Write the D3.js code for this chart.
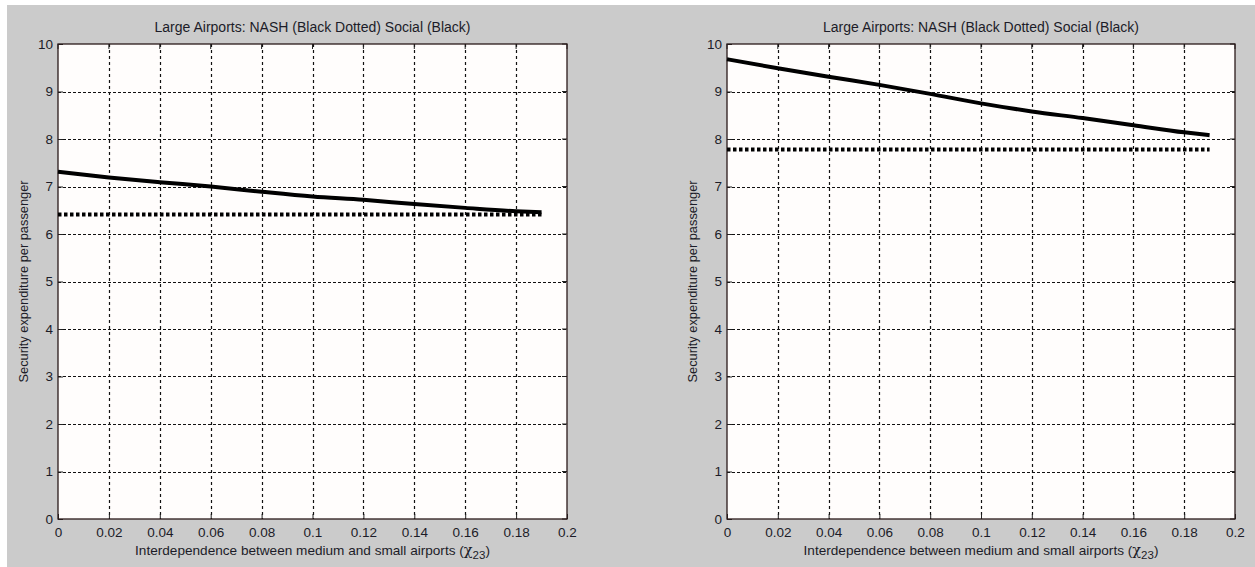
<!DOCTYPE html>
<html>
<head>
<meta charset="utf-8">
<script src="https://cdn.jsdelivr.net/npm/d3@7"></script>
<style>
  html, body { margin: 0; padding: 0; background: #ffffff; }
  svg { display: block; }
  text { font-family: "Liberation Sans", Arial, sans-serif; fill: #1c1c28; }
</style>
</head>
<body>
<svg id="chart" width="1255" height="567"></svg>
<script>
// Interdependence values (chi_23) at which the expenditures were computed
const chi = [0, 0.02, 0.04, 0.06, 0.08, 0.10, 0.12, 0.14, 0.16, 0.18, 0.19];

// Left panel: social optimum and Nash equilibrium
const socialLeft = [7.31, 7.19, 7.09, 7.00, 6.89, 6.79, 6.72, 6.63, 6.55, 6.48, 6.46];
const nashLeft   = [6.41, 6.41, 6.41, 6.41, 6.41, 6.41, 6.41, 6.41, 6.41, 6.41, 6.41];

// Right panel: social optimum and Nash equilibrium
const socialRight = [9.68, 9.49, 9.31, 9.14, 8.95, 8.75, 8.58, 8.44, 8.29, 8.14, 8.08];
const nashRight   = [7.78, 7.78, 7.78, 7.78, 7.78, 7.78, 7.78, 7.78, 7.78, 7.78, 7.78];

const xTicks = [0, 0.02, 0.04, 0.06, 0.08, 0.1, 0.12, 0.14, 0.16, 0.18, 0.2];
const yTicks = [0, 1, 2, 3, 4, 5, 6, 7, 8, 9, 10];

const titleText = "Large Airports: NASH (Black Dotted) Social (Black)";
const yLabelText = "Security expenditure per passenger";
const xLabelText = "Interdependence between medium and small airports (";

const svg = d3.select("#chart");

// Figure background
svg.append("rect").attr("x", 7).attr("y", 5).attr("width", 1248).attr("height", 562)
  .attr("fill", "#cbcbcb");

function panel(left, right, social, nash) {
  const top = 44, bottom = 519;
  const x = d3.scaleLinear().domain([0, 0.2]).range([left, right]);
  const y = d3.scaleLinear().domain([0, 10]).range([bottom, top]);
  const g = svg.append("g");

  g.append("rect").attr("x", left).attr("y", top)
    .attr("width", right - left).attr("height", bottom - top)
    .attr("fill", "#fffdfc");

  // Dotted grid
  g.append("g").selectAll("line").data(xTicks.slice(1, -1)).join("line")
    .attr("x1", d => Math.round(x(d)) + 0.5).attr("x2", d => Math.round(x(d)) + 0.5)
    .attr("y1", top).attr("y2", bottom)
    .attr("stroke", "#111").attr("stroke-width", 1.2).attr("stroke-dasharray", "3,3");
  g.append("g").selectAll("line").data(yTicks.slice(1, -1)).join("line")
    .attr("y1", d => Math.round(y(d)) + 0.5).attr("y2", d => Math.round(y(d)) + 0.5)
    .attr("x1", left).attr("x2", right)
    .attr("stroke", "#111").attr("stroke-width", 1.2).attr("stroke-dasharray", "3,2");

  // Axes with inward ticks
  const xAxis = d3.axisBottom(x).tickValues(xTicks).tickSize(-5).tickPadding(8)
    .tickFormat(d => d3.format("")(+d.toFixed(2)));
  const yAxis = d3.axisLeft(y).tickValues(yTicks).tickSize(-5).tickPadding(5);

  const gx = g.append("g").attr("transform", `translate(0,${bottom})`).call(xAxis);
  const gy = g.append("g").attr("transform", `translate(${left},0)`).call(yAxis);
  [gx, gy].forEach(a => {
    a.select(".domain").remove();
    a.selectAll("line").attr("stroke", "#222");
    a.selectAll("text").attr("font-size", 13.5).attr("fill", "#1c1c28")
      .style("font-family", "'Liberation Sans', Arial, sans-serif");
  });
  // Top/right ticks
  g.append("g").selectAll("line").data(xTicks).join("line")
    .attr("x1", d => x(d)).attr("x2", d => x(d)).attr("y1", top).attr("y2", top + 5)
    .attr("stroke", "#222");
  g.append("g").selectAll("line").data(yTicks).join("line")
    .attr("y1", d => y(d)).attr("y2", d => y(d)).attr("x1", right).attr("x2", right - 5)
    .attr("stroke", "#222");

  // Box
  g.append("rect").attr("x", left).attr("y", top)
    .attr("width", right - left).attr("height", bottom - top)
    .attr("fill", "none").attr("stroke", "#2a1a1a").attr("stroke-width", 1.3);

  const line = d3.line().x((d, i) => x(chi[i])).y(d => y(d)).curve(d3.curveMonotoneX);

  g.append("path").datum(nash).attr("d", line)
    .attr("fill", "none").attr("stroke", "#000").attr("stroke-width", 4)
    .attr("stroke-dasharray", "3.5,2.5");
  g.append("path").datum(social).attr("d", line)
    .attr("fill", "none").attr("stroke", "#000").attr("stroke-width", 4)
    .attr("stroke-linejoin", "round");

  const cx = (left + right) / 2;
  g.append("text").attr("x", cx).attr("y", 32).attr("text-anchor", "middle")
    .attr("font-size", 14).text(titleText);

  const xl = g.append("text").attr("x", cx).attr("y", 555).attr("text-anchor", "middle")
    .attr("font-size", 13.6);
  xl.append("tspan").text(xLabelText);
  xl.append("tspan").style("font-family", "'DejaVu Serif', serif").attr("font-size", 14.5).text("χ");
  xl.append("tspan").attr("dy", 4).attr("font-size", 11.5).text("23");
  xl.append("tspan").attr("dy", -4).text(")");

  g.append("text").attr("transform", `translate(${left - 30},${(top + bottom) / 2}) rotate(-90)`)
    .attr("text-anchor", "middle").attr("font-size", 12.8).text(yLabelText);
}

panel(58, 567, socialLeft, nashLeft);
panel(727, 1235, socialRight, nashRight);
</script>
</body>
</html>
